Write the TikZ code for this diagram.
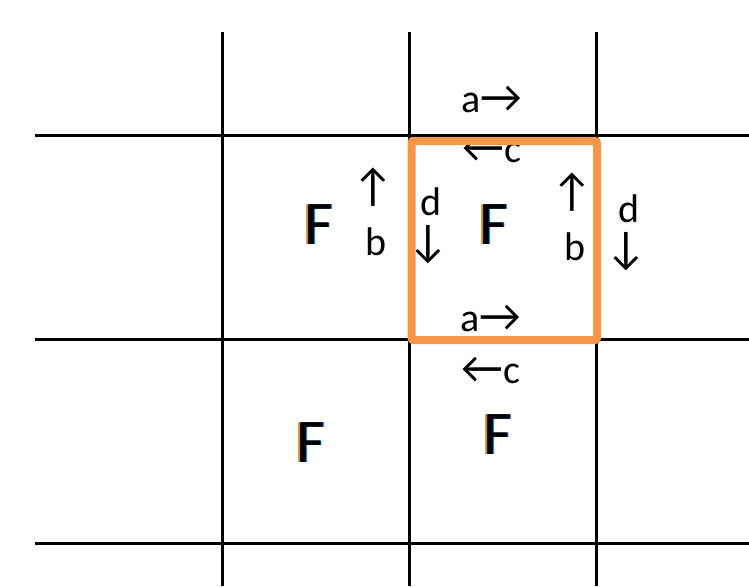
\documentclass[tikz,border=0pt]{standalone}
\usepackage{fontspec}
\setmainfont{Carlito}
\usepackage{tikz}
\usepackage{xcolor}

\definecolor{frameorange}{HTML}{F79646}
\definecolor{ghostorange}{HTML}{D68A2E}
\definecolor{ghostblue}{HTML}{0048A0}
\definecolor{ghostcyan}{HTML}{C8F8FF}

\tikzset{
  gridline/.style={line width=3pt, black},
  frame/.style={draw=frameorange, line width=8pt, rounded corners=2pt},
  lbl/.style={inner sep=0pt, font=\fontsize{40}{40}\selectfont},
  arr/.style={inner sep=0pt, font=\fontsize{46}{46}\selectfont},
  fletter/.style={inner sep=0pt, font=\fontsize{62}{62}\selectfont}
}

% larger arrow glyph inside a label
\newcommand{\bigarr}[1]{{\fontsize{46}{46}\selectfont#1}}

% F with coloured fringes, the black one carries the name
\newcommand{\fringeF}[2]{%
  \node[fletter, text=ghostorange] at ([xshift=-2pt]#2) {F};
  \node[fletter, text=ghostcyan] at ([xshift=2pt]#2) {F};
  \node[fletter, text=ghostblue] at ([xshift=0.8pt]#2) {F};
  \node[fletter, text=black] (#1) at (#2) {F};
}

\begin{document}
\begin{tikzpicture}[x=1pt, y=-1pt]
    \useasboundingbox (0,0) rectangle (749,586);

    % Grid
    \foreach \x in {222.5,409,596}
        \draw[gridline] (\x,32) -- (\x,586);
    \foreach \y in {135,339,543}
        \draw[gridline] (35,\y) -- (749,\y);

    % Letters F
    \fringeF{fleft}{319,225}
    \fringeF{fmid}{494,225}
    \fringeF{fbotleft}{311,443}
    \fringeF{fbot}{498,435}

    % Top and bottom labels
    \node[lbl, anchor=base] (atop) at (492,112) {a\bigarr{→}};
    \node[lbl, anchor=base] (ctop) at (492,162) {\bigarr{←}c};
    \node[lbl, anchor=base] (abot) at (491,331) {a\bigarr{→}};
    \node[lbl, anchor=base] (cbot) at (491,383) {\bigarr{←}c};

    % Side labels
    \node[arr] (upleft) at (373,187) {↑};
    \node[lbl, anchor=base] (bleft) at (376,255) {b};
    \node[lbl, anchor=base] (dleft) at (431,215) {d};
    \node[arr] (downleft) at (428,245) {↓};
    \node[arr] (upright) at (572,192) {↑};
    \node[lbl, anchor=base] (bright) at (575,260) {b};
    \node[lbl, anchor=base] (dright) at (629,222) {d};
    \node[arr] (downright) at (626,252) {↓};

    % Highlighted cell
    \draw[frame] (411.5,141) rectangle (597,340);
\end{tikzpicture}
\end{document}
